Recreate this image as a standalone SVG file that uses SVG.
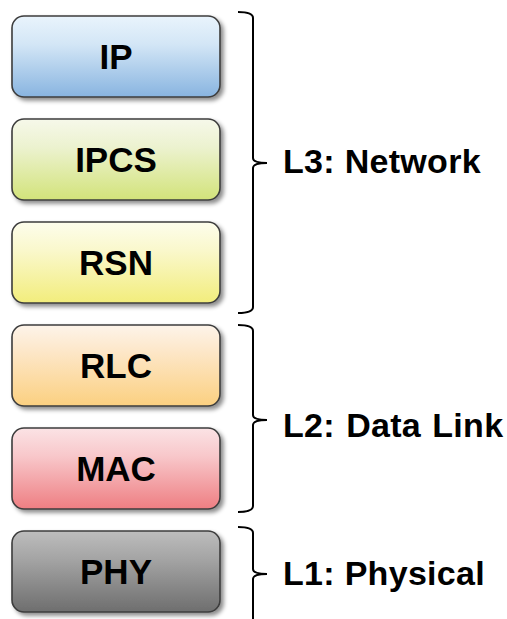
<svg xmlns="http://www.w3.org/2000/svg" width="507" height="619" viewBox="0 0 507 619">
<style>
.box{stroke:#3c3c3c;stroke-width:1.6;filter:url(#sh)}
.lbl{font-family:"Liberation Sans",Arial,sans-serif;font-weight:bold;font-size:35px;fill:#000;text-anchor:middle}
.grp{font-family:"Liberation Sans",Arial,sans-serif;font-weight:bold;font-size:34px;fill:#000;letter-spacing:0.3px}
.br{fill:none;stroke:#000;stroke-width:2}
</style>
<defs>
<filter id="sh" x="-10%" y="-10%" width="130%" height="140%">
<feDropShadow dx="3" dy="3" stdDeviation="2.2" flood-color="#000" flood-opacity="0.45"/>
</filter>
<linearGradient id="gIP" x1="0" y1="0" x2="0" y2="1"><stop offset="0" stop-color="#e9f4fc"/><stop offset="0.35" stop-color="#d3e6f6"/><stop offset="1" stop-color="#88b4e0"/></linearGradient>
<linearGradient id="gIPCS" x1="0" y1="0" x2="0" y2="1"><stop offset="0" stop-color="#f6f8ea"/><stop offset="0.35" stop-color="#ecf2cf"/><stop offset="1" stop-color="#d2e37a"/></linearGradient>
<linearGradient id="gRSN" x1="0" y1="0" x2="0" y2="1"><stop offset="0" stop-color="#fdfdec"/><stop offset="0.35" stop-color="#faf8cc"/><stop offset="1" stop-color="#f2ed7c"/></linearGradient>
<linearGradient id="gRLC" x1="0" y1="0" x2="0" y2="1"><stop offset="0" stop-color="#fdf4ea"/><stop offset="0.35" stop-color="#fde6c6"/><stop offset="1" stop-color="#fbd080"/></linearGradient>
<linearGradient id="gMAC" x1="0" y1="0" x2="0" y2="1"><stop offset="0" stop-color="#fbe3e5"/><stop offset="0.35" stop-color="#f8c7ca"/><stop offset="1" stop-color="#ee7e82"/></linearGradient>
<linearGradient id="gPHY" x1="0" y1="0" x2="0" y2="1"><stop offset="0" stop-color="#bdbdbd"/><stop offset="0.35" stop-color="#a4a4a4"/><stop offset="1" stop-color="#6e6e6e"/></linearGradient>
</defs>
<rect width="507" height="619" fill="#fff"/>
<g id="IP"><rect class="box" x="12" y="16" width="208" height="81" rx="12" fill="url(#gIP)"/><text class="lbl" x="116" y="69">IP</text></g>
<g id="IPCS"><rect class="box" x="12" y="119" width="208" height="81" rx="12" fill="url(#gIPCS)"/><text class="lbl" x="116" y="172">IPCS</text></g>
<g id="RSN"><rect class="box" x="12" y="222" width="208" height="81" rx="12" fill="url(#gRSN)"/><text class="lbl" x="116" y="275">RSN</text></g>
<g id="RLC"><rect class="box" x="12" y="325" width="208" height="81" rx="12" fill="url(#gRLC)"/><text class="lbl" x="116" y="378">RLC</text></g>
<g id="MAC"><rect class="box" x="12" y="428" width="208" height="81" rx="12" fill="url(#gMAC)"/><text class="lbl" x="116" y="481">MAC</text></g>
<g id="PHY"><rect class="box" x="12" y="531" width="208" height="81" rx="12" fill="url(#gPHY)"/><text class="lbl" x="116" y="584">PHY</text></g>
<g id="connectors">
<path class="br" d="M238 12 Q253 12 253 18 L253 158 Q253 163 267 163 Q253 163 253 168 L253 307 Q253 313 238 313"/>
<path class="br" d="M238 325 Q253 325 253 331 L253 415 Q253 420 267 420 Q253 420 253 425 L253 506 Q253 512 238 512"/>
<path class="br" d="M238 527 Q253 527 253 533 L253 569 Q253 574 267 574 Q253 574 253 579 L253 625"/>
</g>
<g id="L3"><text class="grp" x="283" y="173">L3: Network</text></g>
<g id="L2"><text class="grp" x="283" y="437" word-spacing="1.5">L2: Data Link</text></g>
<g id="L1"><text class="grp" x="283" y="585">L1: Physical</text></g>
</svg>
